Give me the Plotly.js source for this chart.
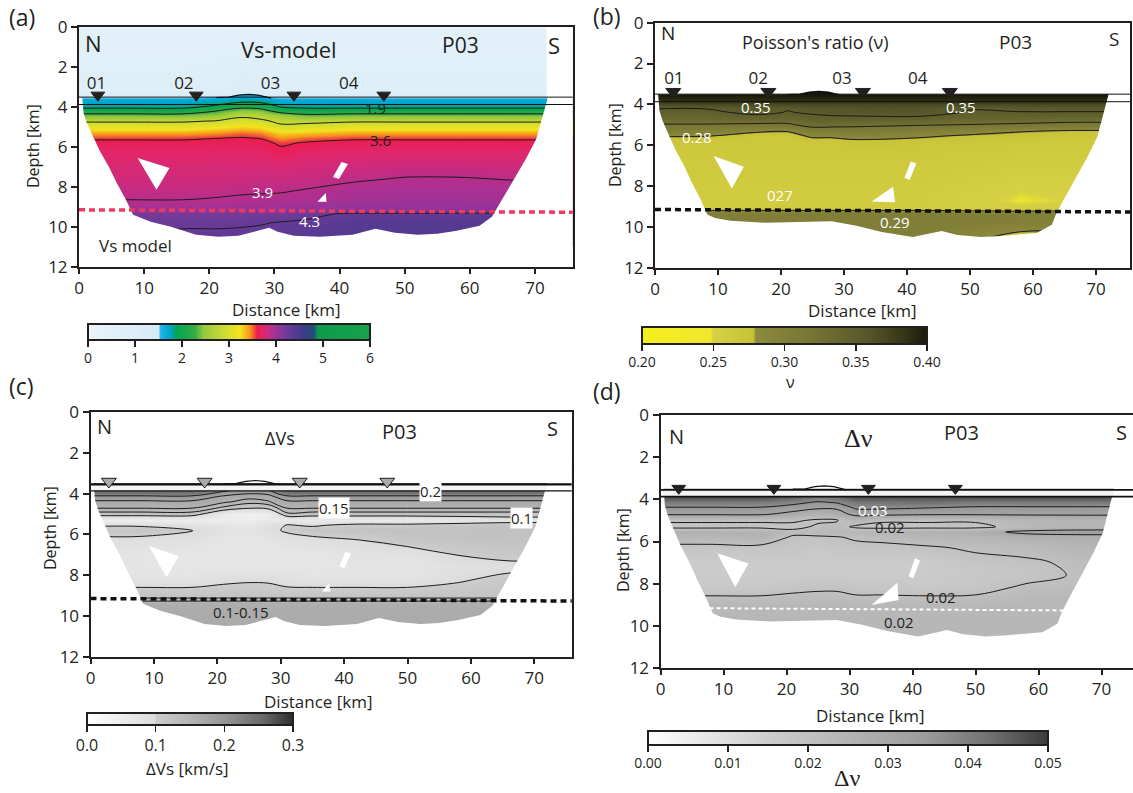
<!DOCTYPE html>
<html>
<head>
<meta charset="utf-8">
<script src="https://cdn.plot.ly/plotly-3.0.1.min.js"></script>
<style>
  html, body { margin: 0; padding: 0; background: #ffffff; }
  #fig { width: 1133px; height: 793px; }
</style>
</head>
<body>
<div id="fig"></div>
<script>
// ---------- model grid (distance along profile P03, depth) ----------
const distanceNodes = [0, 8, 16, 21, 25, 28, 31, 35, 42, 50, 58, 66, 74];
const depthNodes = [0, 3.3, 3.55, 3.75, 3.95, 4.15, 4.4, 4.7, 5.0, 5.3, 5.55, 5.8, 6.3, 7.0, 7.6, 8.2, 8.7, 9.05, 9.35, 9.8, 10.6];

// Vs [km/s], one column per distance node (top to bottom)
const vsColumns = [
  [0.5, 0.9, 1.65, 1.75, 1.8, 2.0, 2.4, 2.85, 3.15, 3.42, 3.57, 3.65, 3.72, 3.78, 3.82, 3.86, 3.905, 3.98, 4.2, 4.25, 4.32],
  [0.5, 0.9, 1.65, 1.75, 1.8, 2.0, 2.4, 2.85, 3.15, 3.42, 3.57, 3.65, 3.72, 3.78, 3.82, 3.86, 3.905, 3.98, 4.2, 4.25, 4.32],
  [0.5, 0.9, 1.65, 1.75, 1.8, 2.0, 2.4, 2.85, 3.15, 3.42, 3.57, 3.65, 3.72, 3.78, 3.82, 3.86, 3.905, 3.98, 4.2, 4.27, 4.35],
  [0.5, 1.0, 1.68, 1.8, 1.93, 2.25, 2.5, 2.92, 3.22, 3.46, 3.595, 3.66, 3.72, 3.78, 3.82, 3.87, 3.915, 3.98, 4.2, 4.27, 4.35],
  [0.5, 1.2, 1.75, 1.89, 2.15, 2.45, 2.8, 3.05, 3.3, 3.52, 3.61, 3.67, 3.72, 3.79, 3.83, 3.88, 3.93, 3.99, 4.21, 4.28, 4.35],
  [0.5, 1.1, 1.72, 1.87, 2.05, 2.4, 2.7, 2.98, 3.25, 3.48, 3.59, 3.65, 3.72, 3.79, 3.84, 3.885, 3.935, 3.99, 4.21, 4.29, 4.36],
  [0.5, 0.9, 1.62, 1.72, 1.86, 2.02, 2.55, 2.8, 3.0, 3.3, 3.45, 3.57, 3.66, 3.78, 3.84, 3.89, 3.94, 4.0, 4.22, 4.31, 4.37],
  [0.5, 0.9, 1.65, 1.72, 1.8, 2.0, 2.35, 2.8, 3.05, 3.35, 3.52, 3.62, 3.73, 3.8, 3.85, 3.91, 3.95, 4.02, 4.25, 4.33, 4.38],
  [0.5, 0.9, 1.65, 1.75, 1.8, 2.0, 2.4, 2.85, 3.15, 3.42, 3.57, 3.65, 3.74, 3.82, 3.88, 3.95, 3.98, 4.05, 4.33, 4.4, 4.45],
  [0.5, 0.9, 1.65, 1.75, 1.8, 2.0, 2.4, 2.85, 3.15, 3.42, 3.57, 3.65, 3.75, 3.84, 3.91, 3.96, 3.99, 4.05, 4.33, 4.4, 4.45],
  [0.5, 0.9, 1.65, 1.75, 1.8, 2.0, 2.4, 2.85, 3.15, 3.42, 3.57, 3.65, 3.75, 3.84, 3.91, 3.96, 3.99, 4.05, 4.33, 4.4, 4.45],
  [0.5, 0.9, 1.65, 1.75, 1.8, 2.0, 2.4, 2.85, 3.15, 3.42, 3.57, 3.65, 3.75, 3.83, 3.895, 3.95, 3.98, 4.05, 4.33, 4.4, 4.45],
  [0.5, 0.9, 1.65, 1.75, 1.8, 2.0, 2.4, 2.85, 3.15, 3.42, 3.57, 3.65, 3.75, 3.83, 3.895, 3.95, 3.98, 4.05, 4.33, 4.4, 4.45]
];

// Poisson's ratio
const nuColumns = [
  [0.3, 0.4, 0.4, 0.39, 0.37, 0.352, 0.345, 0.335, 0.318, 0.3, 0.281, 0.27, 0.266, 0.264, 0.262, 0.26, 0.258, 0.26, 0.302, 0.302, 0.302],
  [0.3, 0.4, 0.4, 0.39, 0.37, 0.352, 0.345, 0.335, 0.318, 0.3, 0.281, 0.27, 0.266, 0.264, 0.262, 0.26, 0.258, 0.26, 0.302, 0.302, 0.302],
  [0.3, 0.4, 0.4, 0.39, 0.37, 0.355, 0.355, 0.34, 0.315, 0.285, 0.268, 0.268, 0.266, 0.264, 0.262, 0.26, 0.258, 0.26, 0.302, 0.302, 0.302],
  [0.3, 0.4, 0.4, 0.39, 0.37, 0.352, 0.349, 0.338, 0.315, 0.282, 0.268, 0.268, 0.266, 0.264, 0.262, 0.26, 0.258, 0.26, 0.302, 0.302, 0.302],
  [0.3, 0.4, 0.4, 0.39, 0.37, 0.36, 0.352, 0.345, 0.33, 0.305, 0.285, 0.27, 0.266, 0.264, 0.262, 0.26, 0.258, 0.26, 0.302, 0.302, 0.302],
  [0.3, 0.4, 0.4, 0.39, 0.37, 0.36, 0.355, 0.345, 0.33, 0.302, 0.285, 0.27, 0.266, 0.264, 0.262, 0.26, 0.258, 0.26, 0.302, 0.302, 0.302],
  [0.3, 0.4, 0.4, 0.39, 0.37, 0.36, 0.356, 0.345, 0.325, 0.31, 0.29, 0.275, 0.268, 0.264, 0.262, 0.26, 0.258, 0.26, 0.302, 0.302, 0.302],
  [0.3, 0.4, 0.4, 0.39, 0.37, 0.362, 0.358, 0.345, 0.325, 0.305, 0.29, 0.275, 0.268, 0.264, 0.262, 0.26, 0.258, 0.26, 0.302, 0.302, 0.302],
  [0.3, 0.4, 0.4, 0.39, 0.37, 0.36, 0.358, 0.345, 0.322, 0.3, 0.284, 0.272, 0.266, 0.264, 0.262, 0.26, 0.258, 0.26, 0.302, 0.302, 0.3],
  [0.3, 0.4, 0.4, 0.39, 0.37, 0.352, 0.348, 0.338, 0.319, 0.292, 0.276, 0.27, 0.265, 0.262, 0.258, 0.255, 0.252, 0.255, 0.3, 0.3, 0.285],
  [0.3, 0.4, 0.4, 0.39, 0.37, 0.355, 0.349, 0.338, 0.315, 0.282, 0.272, 0.268, 0.262, 0.258, 0.254, 0.25, 0.248, 0.252, 0.298, 0.298, 0.265],
  [0.3, 0.4, 0.4, 0.39, 0.37, 0.355, 0.349, 0.335, 0.31, 0.278, 0.27, 0.266, 0.262, 0.258, 0.254, 0.252, 0.25, 0.255, 0.298, 0.295, 0.265],
  [0.3, 0.4, 0.4, 0.39, 0.37, 0.355, 0.349, 0.335, 0.31, 0.278, 0.27, 0.266, 0.262, 0.258, 0.254, 0.252, 0.25, 0.255, 0.298, 0.295, 0.265]
];

// Vs uncertainty [km/s]
const dvsColumns = [
  [0, 0.28, 0.28, 0.28, 0.24, 0.19, 0.165, 0.152, 0.12, 0.05, 0.095, 0.115, 0.09, 0.075, 0.075, 0.08, 0.105, 0.12, 0.16, 0.165, 0.165],
  [0, 0.28, 0.28, 0.28, 0.24, 0.19, 0.165, 0.152, 0.12, 0.05, 0.095, 0.115, 0.09, 0.075, 0.075, 0.08, 0.105, 0.12, 0.16, 0.165, 0.165],
  [0, 0.28, 0.28, 0.28, 0.24, 0.19, 0.165, 0.152, 0.12, 0.05, 0.085, 0.102, 0.085, 0.072, 0.072, 0.08, 0.105, 0.12, 0.16, 0.165, 0.165],
  [0, 0.28, 0.28, 0.23, 0.19, 0.165, 0.155, 0.125, 0.06, 0.05, 0.075, 0.08, 0.075, 0.07, 0.07, 0.09, 0.11, 0.12, 0.16, 0.165, 0.165],
  [0, 0.27, 0.26, 0.2, 0.175, 0.158, 0.14, 0.105, 0.04, 0.05, 0.07, 0.075, 0.072, 0.07, 0.07, 0.095, 0.11, 0.12, 0.16, 0.165, 0.165],
  [0, 0.27, 0.27, 0.21, 0.18, 0.16, 0.148, 0.11, 0.05, 0.06, 0.085, 0.09, 0.075, 0.07, 0.07, 0.095, 0.108, 0.12, 0.16, 0.165, 0.165],
  [0, 0.28, 0.28, 0.28, 0.24, 0.19, 0.165, 0.152, 0.125, 0.06, 0.102, 0.105, 0.085, 0.07, 0.072, 0.085, 0.105, 0.12, 0.16, 0.165, 0.165],
  [0, 0.28, 0.28, 0.28, 0.24, 0.19, 0.165, 0.152, 0.12, 0.06, 0.095, 0.115, 0.09, 0.072, 0.072, 0.08, 0.105, 0.12, 0.16, 0.165, 0.165],
  [0, 0.28, 0.28, 0.28, 0.24, 0.19, 0.165, 0.152, 0.12, 0.06, 0.11, 0.12, 0.098, 0.08, 0.075, 0.08, 0.105, 0.12, 0.16, 0.165, 0.165],
  [0, 0.28, 0.28, 0.28, 0.24, 0.19, 0.165, 0.152, 0.12, 0.06, 0.11, 0.125, 0.115, 0.08, 0.075, 0.08, 0.105, 0.12, 0.16, 0.165, 0.165],
  [0, 0.28, 0.28, 0.28, 0.24, 0.19, 0.165, 0.152, 0.12, 0.07, 0.115, 0.125, 0.12, 0.101, 0.085, 0.095, 0.11, 0.12, 0.16, 0.165, 0.165],
  [0, 0.28, 0.28, 0.28, 0.24, 0.19, 0.165, 0.152, 0.12, 0.08, 0.12, 0.125, 0.12, 0.11, 0.09, 0.11, 0.115, 0.12, 0.16, 0.165, 0.165],
  [0, 0.28, 0.28, 0.28, 0.24, 0.19, 0.165, 0.152, 0.12, 0.08, 0.12, 0.125, 0.12, 0.11, 0.09, 0.11, 0.115, 0.12, 0.16, 0.165, 0.165]
];

// Poisson's ratio uncertainty
const dnuColumns = [
  [0, 0.045, 0.05, 0.049, 0.046, 0.04, 0.0355, 0.031, 0.021, 0.018, 0.026, 0.024, 0.018, 0.016, 0.016, 0.017, 0.021, 0.024, 0.024, 0.024, 0.024],
  [0, 0.045, 0.05, 0.049, 0.046, 0.04, 0.0355, 0.031, 0.021, 0.018, 0.026, 0.024, 0.018, 0.016, 0.016, 0.017, 0.021, 0.024, 0.024, 0.024, 0.024],
  [0, 0.045, 0.05, 0.049, 0.046, 0.04, 0.0355, 0.031, 0.021, 0.018, 0.026, 0.025, 0.018, 0.016, 0.016, 0.017, 0.021, 0.024, 0.024, 0.024, 0.024],
  [0, 0.045, 0.05, 0.048, 0.044, 0.038, 0.033, 0.028, 0.021, 0.018, 0.022, 0.019, 0.018, 0.016, 0.016, 0.018, 0.022, 0.024, 0.024, 0.024, 0.024],
  [0, 0.045, 0.05, 0.046, 0.04, 0.035, 0.031, 0.025, 0.019, 0.021, 0.023, 0.019, 0.017, 0.016, 0.016, 0.019, 0.022, 0.024, 0.024, 0.024, 0.024],
  [0, 0.045, 0.05, 0.047, 0.042, 0.0365, 0.031, 0.027, 0.0195, 0.022, 0.024, 0.0195, 0.018, 0.016, 0.016, 0.019, 0.022, 0.024, 0.024, 0.024, 0.024],
  [0, 0.045, 0.05, 0.049, 0.046, 0.041, 0.037, 0.032, 0.024, 0.019, 0.024, 0.021, 0.018, 0.016, 0.016, 0.018, 0.021, 0.024, 0.024, 0.024, 0.024],
  [0, 0.045, 0.05, 0.049, 0.046, 0.041, 0.037, 0.032, 0.021, 0.018, 0.025, 0.022, 0.018, 0.016, 0.016, 0.018, 0.021, 0.024, 0.024, 0.024, 0.024],
  [0, 0.045, 0.05, 0.049, 0.046, 0.042, 0.0362, 0.031, 0.021, 0.018, 0.026, 0.024, 0.019, 0.016, 0.016, 0.017, 0.021, 0.024, 0.024, 0.024, 0.024],
  [0, 0.045, 0.05, 0.049, 0.046, 0.04, 0.035, 0.031, 0.021, 0.018, 0.027, 0.024, 0.021, 0.018, 0.017, 0.018, 0.021, 0.024, 0.024, 0.024, 0.024],
  [0, 0.045, 0.05, 0.049, 0.046, 0.04, 0.035, 0.031, 0.024, 0.023, 0.032, 0.026, 0.022, 0.019, 0.018, 0.021, 0.023, 0.024, 0.024, 0.024, 0.024],
  [0, 0.045, 0.05, 0.049, 0.046, 0.04, 0.035, 0.031, 0.025, 0.025, 0.033, 0.027, 0.024, 0.021, 0.0205, 0.022, 0.023, 0.024, 0.024, 0.024, 0.024],
  [0, 0.045, 0.05, 0.049, 0.046, 0.04, 0.035, 0.031, 0.025, 0.025, 0.033, 0.027, 0.024, 0.021, 0.0205, 0.022, 0.023, 0.024, 0.024, 0.024, 0.024]
];

// iso-lines drawn on each section
const vsLevels = [1.9, 2.3, 2.9, 3.6, 3.9, 4.3];
const nuLevels = [0.28, 0.32, 0.35];
const dvsLevels = [0.1, 0.13, 0.15, 0.17, 0.2];
const dnuLevels = [0.02, 0.03, 0.036];

// outline of the resolved model area (distance km, depth km), clockwise from top-left
const edgeA_x = [0.5, 72, 71.6, 71.2, 70.2, 68.6, 66.8, 65.0, 63.4, 61.5, 58, 55, 52, 48.5, 45.5, 42, 37, 33, 30.5, 29.2, 27.5, 24.5, 21.4, 18, 14.1, 11, 8.3, 7.2, 5.8, 4.6, 3.2, 2.3, 1.2, 0.7];
const edgeA_d = [3.5, 3.5, 3.9, 4.4, 5.6, 6.6, 7.6, 8.6, 9.5, 9.95, 10.2, 10.35, 10.4, 10.3, 10.1, 10.4, 10.5, 10.45, 10.25, 10.05, 10.2, 10.45, 10.5, 10.4, 10.0, 9.75, 9.4, 8.64, 7.8, 7.0, 6.2, 5.6, 4.8, 4.3];
const edgeB_x = [0.5, 72, 71.6, 71.2, 70.2, 68.6, 66.8, 65.0, 63.7, 63.0, 60.6, 55, 51.7, 48, 45.5, 43, 40.9, 36, 32, 28, 22, 17.5, 12, 9.5, 8.3, 7.2, 5.8, 4.6, 3.2, 2.3, 1.2, 0.7];
const edgeB_d = [3.5, 3.5, 3.9, 4.4, 5.6, 6.6, 7.6, 8.6, 9.35, 9.9, 10.3, 10.45, 10.5, 10.4, 10.2, 10.35, 10.5, 10.25, 9.95, 9.72, 9.78, 9.8, 9.7, 9.57, 9.4, 8.64, 7.8, 7.0, 6.2, 5.6, 4.8, 4.3];

// unresolved gaps inside the sections (white wedges)
const gapsA_x = [9.0, 13.9, 11.9, null, 40.3, 41.3, 39.9, 39.0, null, 36.6, 37.9, 38.0];
const gapsA_d = [6.55, 7.05, 8.14, null, 6.75, 6.85, 7.6, 7.5, null, 8.75, 8.3, 8.75];
const gapsB_x = [9.3, 14.1, 12.2, null, 40.6, 41.5, 40.4, 39.6, null, 34.4, 37.8, 38.1];
const gapsB_d = [6.53, 7.06, 8.12, null, 6.8, 6.9, 7.7, 7.6, null, 8.76, 8.04, 8.8];
const gapsC_x = [9.2, 13.95, 12.0, null, 40.2, 41.1, 40.0, 39.3, null, 36.5, 37.6, 37.9];
const gapsC_d = [6.57, 7.06, 8.1, null, 6.85, 6.95, 7.66, 7.56, null, 8.8, 8.4, 8.8];
const gapsD_x = [9.0, 13.97, 11.86, null, 40.4, 41.2, 40.1, 39.4, null, 33.5, 37.6, 37.8];
const gapsD_d = [6.56, 7.04, 8.17, null, 6.8, 6.9, 7.75, 7.65, null, 9.01, 7.96, 8.78];

// surface relief and reference horizons
const reliefX = [21, 23, 24.5, 26, 27.5, 28.5, 29.5];
const reliefD = [3.52, 3.5, 3.4, 3.36, 3.4, 3.48, 3.55];
const horizonTopD = [3.5, 3.5, 3.55, 3.55];
const horizonBaseD = 3.87;
const surfaceStripX = [0.5, 72];
const interfaceX = [0, 76];
const interfaceD = [9.15, 9.27];

// stations
const stationX = [2.9, 18, 33, 46.8];
const stationNames = ['01', '02', '03', '04'];
const stationNameXA = [2.7, 16.1, 29.4, 41.4];
const stationNameXB = [3.0, 16.4, 29.7, 41.7];

// ---------- styling ----------
const DARK = '#231f20';
const FONT = '"Open Sans", "Noto Sans", sans-serif';
const SERIF = '"Liberation Serif", "DejaVu Serif", serif';

const vsScale = [[0, '#eaf5fb'], [0.25, '#d5eaf5'], [0.258, '#1cb4e6'], [0.29, '#00a6d2'], [0.3, '#00a59a'], [0.315, '#00a651'],
  [0.38, '#39ab48'], [0.41, '#92c83e'], [0.48, '#cbdb34'], [0.54, '#f4e41f'], [0.575, '#f7941d'], [0.6, '#ec1c4e'],
  [0.62, '#e2266a'], [0.635, '#d22a7a'], [0.65, '#b72e8c'], [0.667, '#9c3399'], [0.7, '#733a99'], [0.733, '#573a93'],
  [0.767, '#3b3d86'], [0.8, '#1f4c78'], [0.815, '#0d9a4c'], [1, '#17a24a']];
const nuScale = [[0, '#f5ef1e'], [0.24, '#efe72c'], [0.25, '#d6d044'], [0.39, '#c8c238'], [0.4, '#8c8a3c'],
  [0.6, '#767534'], [0.8, '#55552a'], [0.92, '#353518'], [1, '#1a1a0a']];
const dvsScale = [[0, '#ffffff'], [0.33, '#dcdcdc'], [0.335, '#cdcdcd'], [0.5, '#b4b4b4'], [0.67, '#959595'], [0.85, '#6a6a6a'], [1, '#2e2e2e']];
const dnuScale = [[0, '#ffffff'], [0.15, '#e6e6e6'], [0.3, '#cdcdcd'], [0.5, '#b4b4b4'], [0.7, '#9a9a9a'], [0.85, '#727272'], [1, '#3c3c3c']];

function toGrid(columns) {
  return depthNodes.map((_, i) => columns.map(col => col[i]));
}

function maskTrace(ex, ed, air, xa, ya) {
  let poly = ex.map((x, i) => [x, ed[i]]);
  if (air) {
    poly = [[0, -1], [71.8, -1], [71.8, 3.5]].concat(poly.slice(1), [[0.5, 3.5], [0, 3.5]]);
  }
  const xs = [-5, 85, 85, -5, -5];
  const ds = [-5, -5, 15, 15, -5];
  const rev = poly.slice().reverse();
  rev.push(rev[0]);
  rev.forEach(p => { xs.push(p[0]); ds.push(p[1]); });
  xs.push(-5); ds.push(-5);
  return { type: 'scatter', mode: 'lines', x: xs, y: ds, xaxis: xa, yaxis: ya, fill: 'toself',
    fillcolor: '#ffffff', line: { width: 0, color: 'rgba(0,0,0,0)' }, hoverinfo: 'skip', showlegend: false };
}

function colorbarSpec(px, py, lenPx, thick, vals, fmt, size) {
  return { orientation: 'h', x: px / 1133, xanchor: 'left', y: 1 - py / 793, yanchor: 'top',
    len: lenPx, lenmode: 'pixels', thickness: thick, thicknessmode: 'pixels', xpad: 0, ypad: 0,
    outlinewidth: 2, outlinecolor: DARK, borderwidth: 0, ticks: 'outside', ticklen: 6, tickwidth: 1.5,
    tickcolor: DARK, tickvals: vals, tickformat: fmt, tickfont: { family: FONT, size: size, color: DARK } };
}

const panels = [
  { xa: 'x', ya: 'y', cols: vsColumns, scale: vsScale, zmin: 0, zmax: 6, levels: vsLevels,
    edge: [edgeA_x, edgeA_d], air: true, gaps: [gapsA_x, gapsA_d],
    cb: colorbarSpec(88, 324, 282, 16, [0, 1, 2, 3, 4, 5, 6], 'd', 14),
    reliefFill: '#12a6d6', topWidth: 1, baseWidth: 1, topD: horizonTopD[0], strip: false,
    dash: { color: '#ee3a5e', width: 3.5, dash: '6px,4px' }, dashX: interfaceX,
    station: { d: 3.4, color: DARK, line: DARK, size: 12 }, names: { x: stationNameXA, d: 2.86 } },
  { xa: 'x2', ya: 'y2', cols: nuColumns, scale: nuScale, zmin: 0.2, zmax: 0.4, levels: nuLevels,
    edge: [edgeB_x, edgeB_d], air: false, gaps: [gapsB_x, gapsB_d],
    cb: colorbarSpec(642, 327, 285, 17, [0.2, 0.25, 0.3, 0.35, 0.4], '.2f', 14),
    reliefFill: '#1a1a0a', topWidth: 1, baseWidth: 1, topD: horizonTopD[1], strip: false,
    dash: { color: '#111111', width: 3.5, dash: '6px,4px' }, dashX: interfaceX,
    station: { d: 3.38, color: DARK, line: DARK, size: 13 }, names: { x: stationNameXB, d: 2.78 } },
  { xa: 'x3', ya: 'y3', cols: dvsColumns, scale: dvsScale, zmin: 0, zmax: 0.3, levels: dvsLevels,
    edge: [edgeA_x, edgeA_d], air: false, gaps: [gapsC_x, gapsC_d],
    cb: colorbarSpec(87, 713, 206, 12, [0, 0.1, 0.2, 0.3], '.1f', 16),
    reliefFill: null, topWidth: 2.2, baseWidth: 1.2, topD: horizonTopD[2], strip: true,
    dash: { color: '#111111', width: 3.5, dash: '6px,4px' }, dashX: interfaceX,
    station: { d: 3.41, color: '#a7a9ac', line: DARK, size: 13 }, names: null },
  { xa: 'x4', ya: 'y4', cols: dnuColumns, scale: dnuScale, zmin: 0, zmax: 0.05, levels: dnuLevels,
    edge: [edgeB_x, edgeB_d], air: false, gaps: [gapsD_x, gapsD_d],
    cb: colorbarSpec(648, 731, 400, 14, [0, 0.01, 0.02, 0.03, 0.04, 0.05], '.2f', 14),
    reliefFill: null, topWidth: 1.8, baseWidth: 1.8, topD: horizonTopD[3], strip: true,
    dash: { color: '#ffffff', width: 2, dash: '4px,3px' }, dashX: [0, 64.3],
    station: { d: 3.48, color: DARK, line: DARK, size: 12 }, names: null }
];

const traces = [];
panels.forEach(p => {
  const z = toGrid(p.cols);
  traces.push({ type: 'heatmap', x: distanceNodes, y: depthNodes, z: z, xaxis: p.xa, yaxis: p.ya,
    zsmooth: 'best', colorscale: p.scale, zmin: p.zmin, zmax: p.zmax, colorbar: p.cb, hoverinfo: 'skip' });
  p.levels.forEach(lv => {
    traces.push({ type: 'contour', x: distanceNodes, y: depthNodes, z: z, xaxis: p.xa, yaxis: p.ya,
      autocontour: false, contours: { start: lv, end: lv + 1e-6, size: 1, coloring: 'none' },
      line: { color: '#1c1c1c', width: 1, smoothing: 1 }, showscale: false, hoverinfo: 'skip' });
  });
  traces.push(maskTrace(p.edge[0], p.edge[1], p.air, p.xa, p.ya));
  traces.push({ type: 'scatter', mode: 'lines', x: p.gaps[0], y: p.gaps[1], xaxis: p.xa, yaxis: p.ya,
    fill: 'toself', fillcolor: '#ffffff', line: { width: 0, color: 'rgba(0,0,0,0)' }, hoverinfo: 'skip' });
  if (p.strip) {
    // pale strip between the two surface horizons
    const s0 = surfaceStripX[0], s1 = surfaceStripX[1];
    traces.push({ type: 'scatter', mode: 'lines', xaxis: p.xa, yaxis: p.ya,
      x: [s0, s1, s1, s0], y: [p.topD, p.topD, horizonBaseD, horizonBaseD],
      fill: 'toself', fillcolor: '#f4f4f4', line: { width: 0, color: 'rgba(0,0,0,0)' }, hoverinfo: 'skip' });
  }
  traces.push({ type: 'scatter', mode: 'lines', x: reliefX, y: reliefD, xaxis: p.xa, yaxis: p.ya,
    fill: p.reliefFill ? 'toself' : 'none', fillcolor: p.reliefFill || 'rgba(0,0,0,0)',
    line: { color: '#111111', width: 1.2 }, hoverinfo: 'skip' });
  traces.push({ type: 'scatter', mode: 'lines', x: [0, 80], y: [p.topD, p.topD], xaxis: p.xa, yaxis: p.ya,
    line: { color: '#111111', width: p.topWidth }, hoverinfo: 'skip' });
  traces.push({ type: 'scatter', mode: 'lines', x: [0, 80], y: [horizonBaseD, horizonBaseD], xaxis: p.xa, yaxis: p.ya,
    line: { color: '#111111', width: p.baseWidth }, hoverinfo: 'skip' });
  traces.push({ type: 'scatter', mode: 'lines', x: p.dashX, y: interfaceD, xaxis: p.xa, yaxis: p.ya,
    line: p.dash, hoverinfo: 'skip' });
  traces.push({ type: 'scatter', mode: 'markers', x: stationX, y: stationX.map(() => p.station.d), xaxis: p.xa, yaxis: p.ya,
    marker: { symbol: 'triangle-down', size: p.station.size, color: p.station.color, line: { color: p.station.line, width: 1 } },
    hoverinfo: 'skip', cliponaxis: false });
  if (p.names) {
    traces.push({ type: 'scatter', mode: 'text', x: p.names.x, y: p.names.x.map(() => p.names.d), xaxis: p.xa, yaxis: p.ya,
      text: stationNames, textposition: 'middle center', textfont: { family: FONT, size: 17, color: DARK }, hoverinfo: 'skip' });
  }
});

// ---------- axes ----------
function xAxis(dom, max, anchor, size) {
  return { domain: dom, range: [0, max], anchor: anchor, showline: true, linewidth: 2, linecolor: DARK, mirror: true,
    ticks: 'outside', ticklen: 5, tickwidth: 2, tickcolor: DARK, tickvals: [0, 10, 20, 30, 40, 50, 60, 70],
    showgrid: false, zeroline: false, tickfont: { family: FONT, size: size, color: DARK }, fixedrange: true };
}
function yAxis(dom, anchor, size, mirror) {
  return { domain: dom, range: [12, 0], anchor: anchor, showline: true, linewidth: 2, linecolor: DARK, mirror: mirror,
    ticks: 'outside', ticklen: 6, tickwidth: 2, tickcolor: DARK, tickvals: [0, 2, 4, 6, 8, 10, 12],
    showgrid: false, zeroline: false, tickfont: { family: FONT, size: size, color: DARK }, fixedrange: true };
}

// ---------- text ----------
function paperText(text, px, py, size, opts) {
  return Object.assign({ text: text, x: px / 1133, y: 1 - py / 793, xref: 'paper', yref: 'paper', showarrow: false,
    xanchor: 'center', yanchor: 'middle', font: { family: FONT, size: size, color: DARK } }, opts || {});
}
function dataText(text, xa, ya, x, d, size, color, opts) {
  return Object.assign({ text: text, x: x, y: d, xref: xa, yref: ya, showarrow: false, xanchor: 'center', yanchor: 'middle',
    font: { family: FONT, size: size, color: color || DARK } }, opts || {});
}
const W = '#ffffff';
const boxed = { bgcolor: '#ffffff', borderpad: 0 };

const annotations = [
  paperText('(a)', 22, 17, 23), paperText('(b)', 607, 16, 23), paperText('(c)', 22, 386, 23), paperText('(d)', 607, 391, 23),
  paperText('Depth [km]', 33, 146, 16, { textangle: -90 }), paperText('Depth [km]', 615, 145, 16, { textangle: -90 }),
  paperText('Depth [km]', 50, 528, 16, { textangle: -90 }), paperText('Depth [km]', 623, 550, 16, { textangle: -90 }),
  paperText('Distance [km]', 286, 309, 17), paperText('Distance [km]', 862, 311, 17),
  paperText('Distance [km]', 318, 701, 17), paperText('Distance [km]', 870, 715, 17),
  paperText('\u03bd', 790, 382, 16), paperText('\u0394Vs [km/s]', 187, 768, 17),
  paperText('\u0394\u03bd', 847, 778, 24, { font: { family: SERIF, size: 24, color: DARK } }),

  // (a) Vs section
  dataText('N', 'x', 'y', 2.3, 0.77, 22), dataText('Vs-model', 'x', 'y', 32.3, 1.07, 22),
  dataText('P03', 'x', 'y', 58.6, 0.9, 21), dataText('S', 'x', 'y', 72.9, 0.9, 22),
  dataText('Vs model', 'x', 'y', 8.7, 10.95, 17),
  dataText(String(vsLevels[0]), 'x', 'y', 45.5, 4.05, 15), dataText(String(vsLevels[3]), 'x', 'y', 46.3, 5.63, 15),
  dataText(String(vsLevels[4]), 'x', 'y', 28.1, 8.28, 15, W), dataText(String(vsLevels[5]), 'x', 'y', 35.4, 9.73, 15, W),

  // (b) Poisson's ratio section
  dataText('N', 'x2', 'y2', 2.0, 0.52, 19), dataText("Poisson's ratio (\u03bd)", 'x2', 'y2', 25.5, 0.93, 18),
  dataText('P03', 'x2', 'y2', 57.2, 0.93, 19), dataText('S', 'x2', 'y2', 72.9, 0.82, 19),
  dataText(String(nuLevels[2]), 'x2', 'y2', 16.1, 4.12, 15, W), dataText(String(nuLevels[2]), 'x2', 'y2', 48.6, 4.15, 15, W),
  dataText(String(nuLevels[0]), 'x2', 'y2', 6.6, 5.59, 15, W), dataText('027', 'x2', 'y2', 19.9, 8.45, 15, W),
  dataText('0.29', 'x2', 'y2', 38.1, 9.75, 15, W),

  // (c) Vs uncertainty
  dataText('N', 'x3', 'y3', 2.2, 0.72, 20), dataText('\u0394Vs', 'x3', 'y3', 29.9, 1.29, 18),
  dataText('P03', 'x3', 'y3', 48.8, 0.96, 20), dataText('S', 'x3', 'y3', 72.9, 0.83, 20),
  dataText(String(dvsLevels[4]), 'x3', 'y3', 53.7, 3.86, 15, DARK, boxed),
  dataText(String(dvsLevels[2]), 'x3', 'y3', 38.4, 4.72, 15, DARK, boxed),
  dataText(String(dvsLevels[0]), 'x3', 'y3', 68.0, 5.18, 15, DARK, boxed),
  dataText('0.1-0.15', 'x3', 'y3', 23.7, 9.79, 15),

  // (d) Poisson's ratio uncertainty
  dataText('N', 'x4', 'y4', 2.6, 1.03, 20),
  dataText('\u0394\u03bd', 'x4', 'y4', 31.5, 1.11, 26, DARK, { font: { family: SERIF, size: 26, color: DARK } }),
  dataText('P03', 'x4', 'y4', 47.8, 0.84, 20), dataText('S', 'x4', 'y4', 73.1, 0.84, 20),
  dataText(String(dnuLevels[1]), 'x4', 'y4', 33.8, 4.51, 15, W),
  dataText(String(dnuLevels[0]), 'x4', 'y4', 36.4, 5.33, 15),
  dataText(String(dnuLevels[0]), 'x4', 'y4', 44.6, 8.65, 15),
  dataText(String(dnuLevels[0]), 'x4', 'y4', 37.8, 9.8, 15)
];

const layout = {
  width: 1133, height: 793, margin: { l: 0, r: 0, t: 0, b: 0 },
  paper_bgcolor: '#ffffff', plot_bgcolor: '#ffffff', showlegend: false,
  font: { family: FONT, color: DARK },
  xaxis: xAxis([79 / 1133, 572.7 / 1133], 75.8, 'y', 17),
  yaxis: yAxis([1 - 266.7 / 793, 1 - 27.3 / 793], 'x', 17, true),
  xaxis2: xAxis([655 / 1133, 1130 / 1133], 75.4, 'y2', 17),
  yaxis2: yAxis([1 - 267.7 / 793, 1 - 22.7 / 793], 'x2', 17, true),
  xaxis3: xAxis([90.5 / 1133, 571.7 / 1133], 75.9, 'y3', 17),
  yaxis3: yAxis([1 - 656.7 / 793, 1 - 412 / 793], 'x3', 17, true),
  xaxis4: xAxis([660.5 / 1133, 1], 75.0, 'y4', 17),
  yaxis4: yAxis([1 - 668 / 793, 1 - 415 / 793], 'x4', 17, false),
  annotations: annotations
};

Plotly.newPlot('fig', traces, layout, { staticPlot: true, displayModeBar: false });
</script>
</body>
</html>
